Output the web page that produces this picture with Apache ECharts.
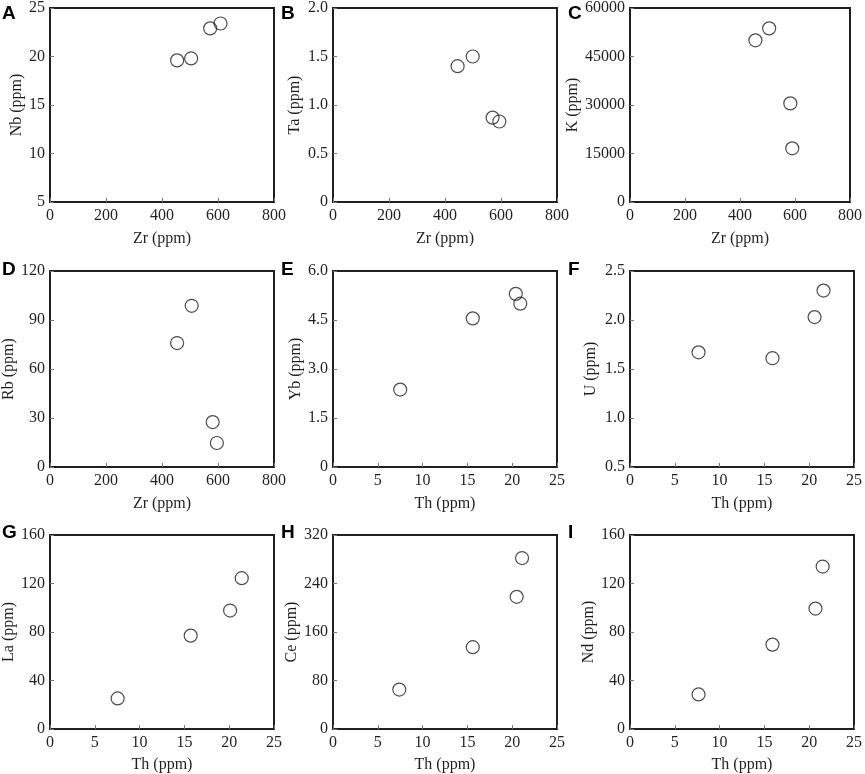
<!DOCTYPE html>
<html>
<head>
<meta charset="utf-8">
<script src="https://cdn.jsdelivr.net/npm/echarts@6/dist/echarts.min.js"></script>
<style>
html,body{margin:0;padding:0;background:#fff;}
#chart{width:865px;height:774px;}
</style>
</head>
<body>
<div id="chart"></div>
<script>
// ---- data ----
var zrA = [454, 504, 572, 609];
var nbA = [19.6, 19.8, 22.9, 23.4];

var zrB = [445, 499, 570, 594];
var taB = [1.40, 1.50, 0.87, 0.83];

var zrC = [456, 506, 583, 590];
var kC = [50000, 53700, 30500, 16600];

var zrD = [454, 506, 581, 596];
var rbD = [75.9, 98.7, 27.5, 14.7];

var thE = [7.5, 15.6, 20.4, 20.9];
var ybE = [2.37, 4.55, 5.30, 5.00];

var thF = [7.65, 15.9, 20.6, 21.6];
var uF = [1.67, 1.61, 2.03, 2.30];

var thG = [7.55, 15.7, 20.1, 21.4];
var laG = [25.2, 77.0, 97.7, 124.4];

var thH = [7.4, 15.6, 20.5, 21.1];
var ceH = [65, 135, 218, 282];

var thI = [7.65, 15.9, 20.7, 21.5];
var ndI = [28.5, 69.6, 99.3, 134];

// ---- tick labels ----
var xTicksZr = ['0', '200', '400', '600', '800'];
var xTicksTh = ['0', '5', '10', '15', '20', '25'];
var yTicksA = ['5', '10', '15', '20', '25'];
var yTicksB = ['0', '0.5', '1.0', '1.5', '2.0'];
var yTicksC = ['0', '15000', '30000', '45000', '60000'];
var yTicksD = ['0', '30', '60', '90', '120'];
var yTicksE = ['0', '1.5', '3.0', '4.5', '6.0'];
var yTicksF = ['0.5', '1.0', '1.5', '2.0', '2.5'];
var yTicksG = ['0', '40', '80', '120', '160'];
var yTicksH = ['0', '80', '160', '240', '320'];
var yTicksI = ['0', '40', '80', '120', '160'];

var panelLetters = ['A', 'B', 'C', 'D', 'E', 'F', 'G', 'H', 'I'];
var xNames = ['Zr (ppm)', 'Zr (ppm)', 'Zr (ppm)', 'Zr (ppm)', 'Th (ppm)', 'Th (ppm)', 'Th (ppm)', 'Th (ppm)', 'Th (ppm)'];
var yNames = ['Nb (ppm)', 'Ta (ppm)', 'K (ppm)', 'Rb (ppm)', 'Yb (ppm)', 'U (ppm)', 'La (ppm)', 'Ce (ppm)', 'Nd (ppm)'];

var panels = [
  {x: zrA, y: nbA, xt: xTicksZr, yt: yTicksA},
  {x: zrB, y: taB, xt: xTicksZr, yt: yTicksB},
  {x: zrC, y: kC,  xt: xTicksZr, yt: yTicksC},
  {x: zrD, y: rbD, xt: xTicksZr, yt: yTicksD},
  {x: thE, y: ybE, xt: xTicksTh, yt: yTicksE},
  {x: thF, y: uF,  xt: xTicksTh, yt: yTicksF},
  {x: thG, y: laG, xt: xTicksTh, yt: yTicksG},
  {x: thH, y: ceH, xt: xTicksTh, yt: yTicksH},
  {x: thI, y: ndI, xt: xTicksTh, yt: yTicksI}
];

// ---- layout ----
var colLeft = [50, 333, 630];
var rowTop = [6, 271, 535];
var gridW = 224, gridH = 196;
var yNameGap = [25, 30, 39, 25, 29, 31, 25, 29, 32];
var xNameGap = [29, 29, 28];
var letterX = [2, 281, 568];
var letterY = [4, 260, 523];

var ink = '#231f20';
var serif = '"Liberation Serif", "Times New Roman", serif';

function fmt(labels) {
  return function (v) {
    for (var i = 0; i < labels.length; i++) {
      if (Math.abs(parseFloat(labels[i]) - v) < 1e-9) return labels[i];
    }
    return '';
  };
}

var grids = [], xAxes = [], yAxes = [], series = [], graphics = [];
panels.forEach(function (p, i) {
  var r = Math.floor(i / 3), c = i % 3;
  grids.push({
    left: colLeft[c], top: rowTop[r], width: gridW, height: gridH,
    show: true, borderColor: ink, borderWidth: 2, backgroundColor: 'transparent'
  });
  var xmin = parseFloat(p.xt[0]), xmax = parseFloat(p.xt[p.xt.length - 1]);
  var ymin = parseFloat(p.yt[0]), ymax = parseFloat(p.yt[p.yt.length - 1]);
  xAxes.push({
    type: 'value', gridIndex: i,
    min: xmin, max: xmax, interval: parseFloat(p.xt[1]) - xmin,
    name: xNames[i], nameLocation: 'middle', nameGap: xNameGap[r],
    nameTextStyle: {fontFamily: serif, fontSize: 16, color: ink},
    axisLine: {show: false, onZero: false},
    axisTick: {show: true, inside: true, length: 4, lineStyle: {color: '#777', width: 1}},
    axisLabel: {fontFamily: serif, fontSize: 16, color: ink, margin: 6, formatter: fmt(p.xt)},
    splitLine: {show: false}
  });
  yAxes.push({
    type: 'value', gridIndex: i,
    min: ymin, max: ymax, interval: parseFloat(p.yt[1]) - ymin,
    name: yNames[i], nameLocation: 'middle', nameGap: yNameGap[i],
    nameTextStyle: {fontFamily: serif, fontSize: 16, color: ink},
    axisLine: {show: false, onZero: false},
    axisTick: {show: true, inside: true, length: 4, lineStyle: {color: '#777', width: 1}},
    axisLabel: {fontFamily: serif, fontSize: 16, color: ink, margin: 5, formatter: fmt(p.yt)},
    splitLine: {show: false}
  });
  series.push({
    type: 'scatter', xAxisIndex: i, yAxisIndex: i,
    data: p.x.map(function (v, k) { return [v, p.y[k]]; }),
    symbol: 'circle', symbolSize: 13,
    itemStyle: {color: 'rgba(255,255,255,0)', borderColor: ink, borderWidth: 1.2},
    emphasis: {disabled: true}
  });
  graphics.push({
    type: 'text', left: letterX[c], top: letterY[r],
    style: {text: panelLetters[i], fontFamily: '"Liberation Sans", Arial, sans-serif', fontWeight: 'bold', fontSize: 19, fill: '#000'}
  });
});

var chart = echarts.init(document.getElementById('chart'), null, {renderer: 'canvas'});
chart.setOption({
  backgroundColor: '#fff',
  animation: false,
  grid: grids,
  xAxis: xAxes,
  yAxis: yAxes,
  series: series,
  graphic: graphics
});
</script>
</body>
</html>
